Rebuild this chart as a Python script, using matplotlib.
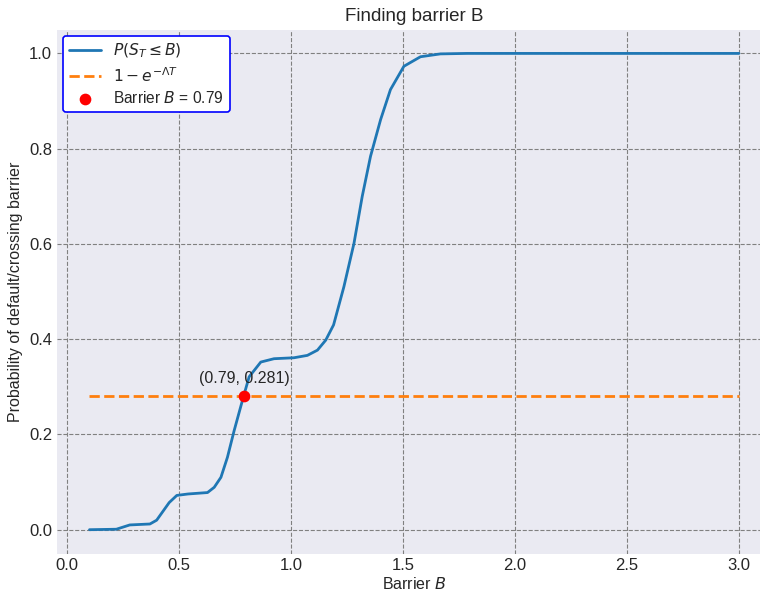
import numpy as np
import matplotlib.pyplot as plt

# Curve
barrier = [0.10, 0.22, 0.28, 0.37, 0.40, 0.456, 0.49, 0.54, 0.627, 0.657, 0.687, 0.716,
           0.746, 0.788, 0.813, 0.865, 0.924, 1.013, 1.073, 1.118, 1.155, 1.19, 1.236,
           1.281, 1.318, 1.355, 1.40, 1.444, 1.504, 1.578, 1.667, 1.786, 2.0, 2.5, 3.0]
prob = [0.0, 0.001, 0.010, 0.012, 0.020, 0.057, 0.072, 0.075, 0.078, 0.089, 0.110, 0.152,
        0.208, 0.280, 0.321, 0.352, 0.359, 0.361, 0.366, 0.377, 0.398, 0.430, 0.510,
        0.601, 0.700, 0.784, 0.861, 0.924, 0.973, 0.993, 0.999, 1.0, 1.0, 1.0, 1.0]
target = 0.281
b_star = 0.79

plt.style.use('seaborn-v0_8-darkgrid')
plt.rcParams['font.family'] = ['Liberation Sans', 'DejaVu Sans']

fig = plt.figure(figsize=(7.6, 5.92), dpi=100)
# axes runs slightly past the right edge, as in the reference
ax = fig.add_axes([0.075, 0.065, 0.94, 0.885])

ax.plot(barrier, prob, color='#1f77b4', lw=2, label=r'$P(S_T \leq B)$')
ax.plot([barrier[0], barrier[-1]], [target, target], color='#ff7f0e', ls='--', lw=2,
        label=r'$1 - e^{-\Lambda T}$')
ax.scatter([b_star], [target], color='red', s=55, zorder=5,
           label=r'Barrier $B$ = 0.79')
ax.annotate(f'({b_star}, {target})', (b_star, target), textcoords='offset points',
            xytext=(0, 9), ha='center', fontsize=11.5)

ax.grid(True, color='gray', ls='--', lw=0.8)
ax.set_title('Finding barrier B', fontsize=13.5)
ax.set_xlabel(r'Barrier $B$', fontsize=11.5, labelpad=2)
ax.set_ylabel('Probability of default/crossing barrier', fontsize=11.5)
ax.tick_params(labelsize=12)
leg = ax.legend(loc='upper left', fontsize=11.2, frameon=True, facecolor='white',
                edgecolor='blue', framealpha=1, labelspacing=0.35,
                borderaxespad=0.4)
leg.get_frame().set_linewidth(1.2)

plt.savefig('out.png')
